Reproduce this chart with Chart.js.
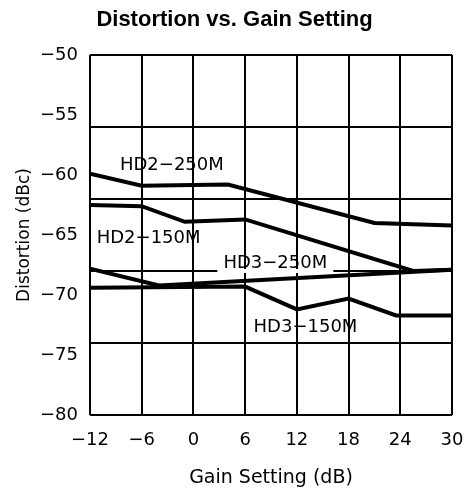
<!DOCTYPE html>
<html>
<head>
<meta charset="utf-8">
<script src="https://cdn.jsdelivr.net/npm/chart.js@4/dist/chart.umd.min.js"></script>
<style>
  html, body { margin: 0; padding: 0; background: #fff; }
  #wrap { width: 469px; height: 493px; }
</style>
</head>
<body>
<div id="wrap"><canvas id="chart"></canvas></div>
<script>
// Données (gain en dB, distorsion en dBc)
const gainHd2_250 = [-12, -6, 4, 21, 30];
const distHd2_250 = [-59.9, -60.9, -60.8, -64.0, -64.2];

const gainHd2_150 = [-12, -6, -1, 6, 25.5, 30];
const distHd2_150 = [-62.5, -62.6, -63.9, -63.7, -68.0, -67.9];

const gainHd3_250 = [-12, -4, 30];
const distHd3_250 = [-67.8, -69.2, -67.9];

const gainHd3_150 = [-12, 6, 12, 18, 23.5, 30];
const distHd3_150 = [-69.4, -69.3, -71.2, -70.3, -71.7, -71.7];

// Étiquettes des courbes, placées en coordonnées de données
const curveLabels = ['HD2-250M', 'HD2-150M', 'HD3-250M', 'HD3-150M'];
const labelGain = [-2.5, -5.2, 9.5, 13.0];
const labelDist = [-59.2, -65.3, -67.4, -72.7];

const FONT = "'DejaVu Sans', sans-serif";

function toPoints(xs, ys) {
    return xs.map((x, i) => ({ x: x, y: ys[i] }));
}

function minusSign(v) {
    return String(v).replace('-', '\u2212');
}

function serie(xs, ys) {
    return {
        data: toPoints(xs, ys),
        borderColor: '#000',
        borderWidth: 4,
        pointRadius: 0,
        tension: 0,
        fill: false
    };
}

// Plugin pour écrire les noms des courbes sur le graphique
const curveLabelPlugin = {
    id: 'curveLabels',
    beforeDatasetsDraw(chart) {
        // masque la ligne de grille horizontale derrière "HD3-250M"
        const { ctx, scales } = chart;
        const xs = scales.x.getPixelForValue(labelGain[2]);
        const ys = scales.yGrid.getPixelForValue(-68);
        ctx.save();
        ctx.fillStyle = '#fff';
        ctx.fillRect(xs - 58, ys - 2, 116, 4);
        ctx.restore();
    },
    afterDatasetsDraw(chart) {
        const { ctx, scales } = chart;
        ctx.save();
        ctx.font = '18px ' + FONT;
        ctx.fillStyle = '#000';
        ctx.textAlign = 'center';
        ctx.textBaseline = 'middle';
        curveLabels.forEach((txt, i) => {
            const px = scales.x.getPixelForValue(labelGain[i]);
            const py = scales.y.getPixelForValue(labelDist[i]);
            ctx.fillText(txt.replace('-', '\u2212'), px, py);
        });
        ctx.restore();
    }
};

const ctx = document.getElementById('chart').getContext('2d');
const chart = new Chart(ctx, {
    type: 'line',
    data: {
        datasets: [
            serie(gainHd2_250, distHd2_250),
            serie(gainHd2_150, distHd2_150),
            serie(gainHd3_250, distHd3_250),
            serie(gainHd3_150, distHd3_150)
        ]
    },
    options: {
        responsive: true,
        maintainAspectRatio: false,
        animation: false,
        layout: {
            padding: 0
        },
        plugins: {
            legend: { display: false },
            tooltip: { enabled: false },
            title: {
                display: true,
                text: 'Distortion vs. Gain Setting',
                color: '#000',
                font: { family: "'Liberation Sans', Arial, sans-serif", size: 22, weight: 'bold', lineHeight: 1.2 },
                padding: { top: 7, bottom: 21.6 }
            }
        },
        scales: {
            x: {
                type: 'linear',
                min: -12,
                max: 30,
                ticks: {
                    stepSize: 6,
                    color: '#000',
                    font: { family: FONT, size: 18 },
                    padding: 15,
                    maxRotation: 0,
                    callback: v => minusSign(v)
                },
                grid: { color: '#000', lineWidth: 2, drawTicks: false },
                border: { display: false },
                title: {
                    display: true,
                    text: 'Gain Setting (dB)',
                    color: '#000',
                    font: { family: FONT, size: 19 },
                    padding: { top: 8 }
                },
                afterFit(scale) {
                    scale.height = 78;
                    scale.paddingLeft = 0;
                    scale.paddingRight = 17;
                }
            },
            y: {
                type: 'linear',
                min: -80,
                max: -50,
                ticks: {
                    stepSize: 5,
                    color: '#000',
                    font: { family: FONT, size: 18 },
                    padding: 12,
                    callback: v => minusSign(v)
                },
                grid: { display: false, drawTicks: false },
                border: { display: false },
                title: {
                    display: true,
                    text: 'Distortion (dBc)',
                    color: '#000',
                    font: { family: FONT, size: 17 },
                    padding: { top: 14, bottom: 4 }
                },
                afterFit(scale) { scale.width = 90; }
            },
            // échelle invisible qui trace la grille tous les 6 dB
            yGrid: {
                type: 'linear',
                position: 'left',
                min: -80,
                max: -50,
                ticks: { display: false, stepSize: 6 },
                grid: { color: '#000', lineWidth: 2, drawTicks: false },
                border: { display: false },
                afterFit(scale) { scale.width = 0; }
            }
        }
    },
    plugins: [curveLabelPlugin]
});
</script>
</body>
</html>
